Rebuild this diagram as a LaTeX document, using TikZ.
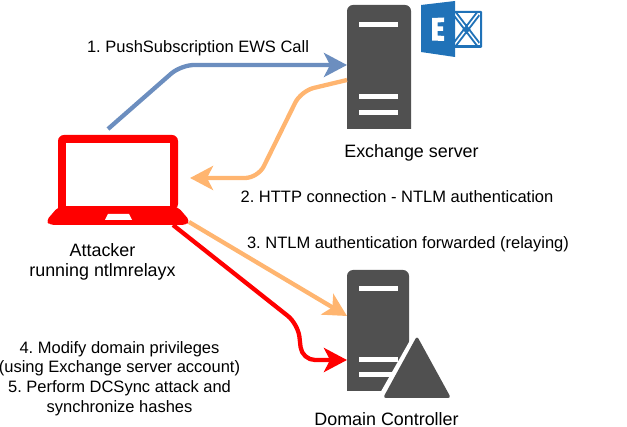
\documentclass[tikz,border=0pt]{standalone}
\usepackage{fontspec}
\setmainfont{Liberation Sans}
\usetikzlibrary{arrows.meta}
\definecolor{srv}{HTML}{505050}
\definecolor{blueA}{HTML}{6C8EBF}
\definecolor{orangeA}{HTML}{FFB570}
\definecolor{msblue}{HTML}{2072B8}
\tikzset{
  x=1pt,y=-1pt,
  label text/.style={font=\fontsize{16.5}{19.8}\selectfont\frenchspacing,align=center,inner sep=0pt,text=black},
  device text/.style={font=\fontsize{17.9}{20}\selectfont\frenchspacing,align=center,inner sep=0pt,text=black},
  link/.style={line width=4.3pt,rounded corners=13pt,-{Stealth[length=23pt,width=24pt,inset=6pt]}},
  bar/.style={fill=white,draw=none},
  device/.style={fill=srv,draw=none},
}
\begin{document}
\begin{tikzpicture}
\useasboundingbox (0,0) rectangle (627,427);
% Exchange server
\fill[device] (347,129) [rounded corners=6pt] -- (347,5) -- (411,5) [sharp corners] -- (411,129) -- cycle;
\foreach \y in {22,94,110} \fill[bar] (359,\y) rectangle (398,\y+5);
\coordinate (exchIn) at (347,65);
\coordinate (exchOut) at (347,80);
% Exchange logo
\fill[msblue,rounded corners=1pt] (452,11) rectangle (482,48);
\fill[white] (455,13.5) rectangle (479.5,45.5);
\begin{scope}
\clip (455,13.5) rectangle (479.5,45.5);
\draw[msblue,line width=5.4pt] (455,14) -- (478,44) (478,14) -- (455,44);
\draw[white,line width=1.5pt] (455,14) -- (478,44) (478,14) -- (455,44);
\fill[msblue] (466.5,25) -- (470.5,29.5) -- (466.5,34) -- (462.5,29.5) -- cycle;
\end{scope}
\fill[msblue] (421,5) -- (455,1) -- (455,57) -- (421,52) -- cycle;
\fill[white] (432,18) -- (444,17.5) -- (444,22) -- (437.5,22.5) -- (437.5,26.5) -- (443,26.5) -- (443,31) -- (437.5,31) -- (437.5,35.5) -- (444,36) -- (444,41) -- (432,40.5) -- cycle;
% Laptop
\fill[red,rounded corners=6pt] (58,210) -- (58,135) -- (178,135) -- (178,210) [sharp corners] -- cycle;
\fill[red,rounded corners=4pt] (58,207) -- (178,207) -- (190,221) -- (186,225) -- (50,225) -- (46,221) -- cycle;
\fill[white] (66,143) rectangle (170,206);
\fill[white] (108,214) -- (129,214) -- (132,220) -- (105,220) -- cycle;
\coordinate (lapBlue) at (108,129);
\coordinate (lapIn) at (190,178);
\coordinate (lapOrange) at (189,222);
\coordinate (lapRed) at (173,225);
% Domain controller
\fill[device] (347,391) [rounded corners=6pt] -- (347,270) -- (409,270) [sharp corners] -- (409,391) -- cycle;
\foreach \y in {286,357,372} \fill[bar] (359,\y) rectangle (398,\y+5);
\fill[white] (417,328) -- (375,402) -- (460,402) -- cycle;
\fill[device,rounded corners=3pt] (417,336) -- (383,398) -- (451,398) -- cycle;
\coordinate (dcOrange) at (347,316);
\coordinate (dcRed) at (347,360);
\coordinate (blueKnee) at (181,65);
\coordinate (orKneeA) at (301,91);
\coordinate (orKneeB) at (258,178);
\coordinate (redKneeA) at (298,324);
\coordinate (redKneeB) at (302,360);
% Connectors
\draw[link,blueA] (lapBlue) -- (blueKnee) -- (exchIn);
\draw[link,orangeA] (exchOut) -- (orKneeA) -- (orKneeB) -- (lapIn);
\draw[link,orangeA,rounded corners=0pt] (lapOrange) -- (dcOrange);
\draw[link,red] (lapRed) -- (redKneeA) -- (redKneeB) -- (dcRed);
% Labels
\node[label text] (t1) at (198,48.5) {1. PushSubscription EWS Call};
\node[label text] (t2) at (397,197) {2. HTTP connection - NTLM authentication};
\node[label text] (t3) at (408,244) {3. NTLM authentication forwarded (relaying)};
\node[device text] (t4) at (102.5,261.5) {Attacker\\running ntlmrelayx};
\node[label text] (t5) at (119.5,378.5) {4. Modify domain privileges\\(using Exchange server account)\\5. Perform DCSync attack and\\synchronize hashes};
\node[device text] (t6) at (411.5,153) {Exchange server};
\node[device text] (t7) at (386.5,419) {Domain Controller};
\end{tikzpicture}
\end{document}
